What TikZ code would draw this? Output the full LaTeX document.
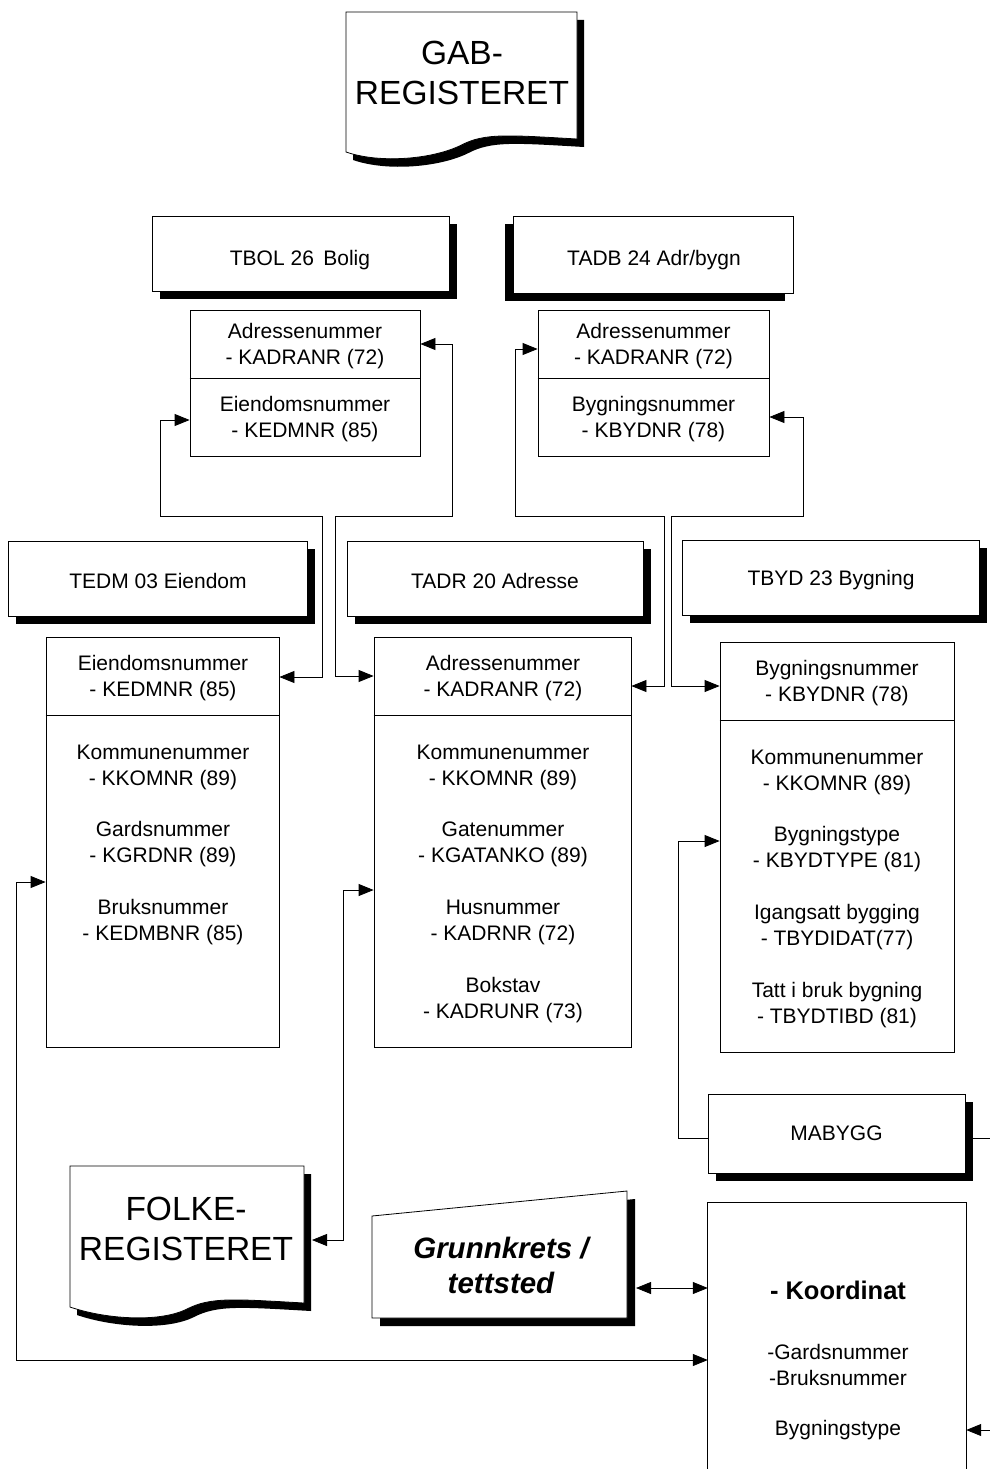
\documentclass[tikz,border=0pt]{standalone}
\usepackage{fontspec}
\setmainfont{Liberation Sans}
\usetikzlibrary{arrows.meta,shadows}
\newcommand\mydocshape[5]{%
  \begin{scope}[shift={(7,8)}]
    \fill[black] (#1,#2) -- (#3,#2) -- (#3,#5)
      .. controls ({#1+0.7*(#3-#1)},#5-4) and ({#1+0.6*(#3-#1)},#5-6) .. ({#1+0.5*(#3-#1)},#5+6)
      .. controls ({#1+0.38*(#3-#1)},#5+20) and ({#1+0.15*(#3-#1)},#4+12) .. (#1,#4) -- cycle;
  \end{scope}
  \filldraw[fill=white,line width=0.8pt] (#1,#2) -- (#3,#2) -- (#3,#5)
      .. controls ({#1+0.7*(#3-#1)},#5-4) and ({#1+0.6*(#3-#1)},#5-6) .. ({#1+0.5*(#3-#1)},#5+6)
      .. controls ({#1+0.38*(#3-#1)},#5+20) and ({#1+0.15*(#3-#1)},#4+12) .. (#1,#4) -- cycle;
}
\begin{document}
\begin{tikzpicture}[x=1pt,y=-1pt,
  every node/.style={font=\fontsize{21}{26}\selectfont, align=center, inner sep=0pt},
  box/.style={draw, line width=0.8pt, fill=white},
  shadowR/.style={drop shadow={shadow xshift=8pt,shadow yshift=-8pt,fill=black,opacity=1}},
  shadowL/.style={drop shadow={shadow xshift=-8pt,shadow yshift=-8pt,fill=black,opacity=1}},
  conn/.style={line width=0.8pt},
  >={Triangle[length=15pt,width=12pt]},
  bigtext/.style={font=\fontsize{33.5}{40}\selectfont},
  boldit/.style={font=\fontsize{29.5}{35}\selectfont\bfseries\itshape},
  ]
\useasboundingbox (0,0) rectangle (990,1469);

% GAB document
\mydocshape{346}{12}{577}{152}{139}
\node[bigtext] (gab) at (462,73) {GAB-\\REGISTERET};

% top headers
\node[box, shadowR, minimum width=297, minimum height=75] (tbol) at (300.5,253.5) {};
\node (tbolT) at (300,260) {TBOL 26\hspace{0.45em}Bolig};
\node[box, shadowL, minimum width=280, minimum height=77] (tadb) at (653,254.5) {};
\node (tadbT) at (654,260) {TADB 24 Adr/bygn};

% top field boxes
\node[box, minimum width=230, minimum height=146] (tbolf) at (305,383) {};
\draw[line width=0.8pt] (tbolf.west |- 0,378) -- (tbolf.east |- 0,378);
\node (tbolA) at (305,346) {Adressenummer\\- KADRANR (72)};
\node (tbolB) at (305,419) {Eiendomsnummer\\- KEDMNR (85)};

\node[box, minimum width=231, minimum height=146] (tadbf) at (653.5,383) {};
\draw[line width=0.8pt] (tadbf.west |- 0,378) -- (tadbf.east |- 0,378);
\node (tadbA) at (653.5,346) {Adressenummer\\- KADRANR (72)};
\node (tadbB) at (653.5,419) {Bygningsnummer\\- KBYDNR (78)};

% middle headers
\node[box, shadowR, minimum width=299, minimum height=75] (tedm) at (157.5,578.5) {};
\node (tedmT) at (158,580.5) {TEDM 03 Eiendom};
\node[box, shadowR, minimum width=296, minimum height=75] (tadr) at (495,578.5) {};
\node (tadrT) at (495,580.5) {TADR 20 Adresse};
\node[box, shadowR, minimum width=297, minimum height=75] (tbyd) at (830.5,577.5) {};
\node (tbydT) at (831,580.5) {TBYD 23 Bygning};

% middle field boxes
\node[box, minimum width=233, minimum height=410] (tedmf) at (162.5,842) {};
\draw[line width=0.8pt] (tedmf.west |- 0,715) -- (tedmf.east |- 0,715);
\node (tedm1) at (163,678.5) {Eiendomsnummer\\- KEDMNR (85)};
\node (tedm2) at (163,767.5) {Kommunenummer\\- KKOMNR (89)};
\node (tedm3) at (163,844.5) {Gardsnummer\\- KGRDNR (89)};
\node (tedm4) at (163,922.5) {Bruksnummer\\- KEDMBNR (85)};

\node[box, minimum width=257, minimum height=410] (tadrf) at (502.5,842) {};
\draw[line width=0.8pt] (tadrf.west |- 0,715) -- (tadrf.east |- 0,715);
\node (tadr1) at (503,678.5) {Adressenummer\\- KADRANR (72)};
\node (tadr2) at (503,767.5) {Kommunenummer\\- KKOMNR (89)};
\node (tadr3) at (503,844.5) {Gatenummer\\- KGATANKO (89)};
\node (tadr4) at (503,922.5) {Husnummer\\- KADRNR (72)};
\node (tadr5) at (503,1000.5) {Bokstav\\- KADRUNR (73)};

\node[box, minimum width=234, minimum height=410] (tbydf) at (837,847) {};
\draw[line width=0.8pt] (tbydf.west |- 0,720) -- (tbydf.east |- 0,720);
\node (tbyd1) at (837,683.5) {Bygningsnummer\\- KBYDNR (78)};
\node (tbyd2) at (837,772.5) {Kommunenummer\\- KKOMNR (89)};
\node (tbyd3) at (837,849.5) {Bygningstype\\- KBYDTYPE (81)};
\node (tbyd4) at (837,927.5) {Igangsatt bygging\\- TBYDIDAT(77)};
\node (tbyd5) at (837,1005.5) {Tatt i bruk bygning\\- TBYDTIBD (81)};

% MABYGG
\node[box, shadowR, minimum width=257, minimum height=79] (mabygg) at (836.5,1133.5) {MABYGG};

% FOLKE document
\mydocshape{70}{1166}{304}{1307}{1303}
\node[bigtext] (folke) at (186,1229) {FOLKE-\\REGISTERET};
\coordinate (folkeR) at (312,1240);

% Grunnkrets
\fill[black] (380,1224) -- (635,1199) -- (635,1326) -- (380,1326) -- cycle;
\filldraw[fill=white,line width=0.8pt] (372,1216) -- (627,1191) -- (627,1318) -- (372,1318) -- cycle;
\node[boldit] (grunn) at (501,1265) {Grunnkrets /\\tettsted};
\coordinate (grunnR) at (636,1288);

% Koordinat box
\node[minimum width=258, minimum height=266] (koord) at (837,1336) {};
\draw[line width=0.8pt] (koord.south west) -- (koord.north west) -- (koord.north east) -- (koord.south east);
\node[font=\fontsize{25.5}{30}\selectfont\bfseries] (k1) at (838,1290) {- Koordinat};
\node (k2) at (838,1365) {-Gardsnummer\\-Bruksnummer};
\node (k3) at (838,1430) {Bygningstype};

% free ends
\coordinate (rightA) at (990,1138);
\coordinate (rightB) at (990,1430);

% connectors
\draw[conn,<->] (tedmf.east |- 0,677) -- (322,677) -- (322,516) -- (160,516) -- (160,420) -- (tbolf.west |- 0,420);
\draw[conn,<->] (tadrf.west |- 0,676) -- (335,676) -- (335,516) -- (452,516) -- (452,344) -- (tbolf.east |- 0,344);
\draw[conn,<->] (tadrf.east |- 0,686) -- (664,686) -- (664,516) -- (515,516) -- (515,349) -- (tadbf.west |- 0,349);
\draw[conn,<->] (tbydf.west |- 0,686) -- (671,686) -- (671,516) -- (803,516) -- (803,417) -- (tadbf.east |- 0,417);
\draw[conn,<-] (tbydf.west |- 0,841) -- (678,841) -- (678,1138) -- (mabygg.west |- 0,1138);
\draw[conn] ([xshift=8pt]mabygg.east |- 0,1138) -- (rightA);
\draw[conn,<->] (tadrf.west |- 0,890) -- (343,890) -- (343,1240) -- (folkeR);
\draw[conn,<->] (tedmf.west |- 0,882) -- (16,882) -- (16,1360) -- (koord.west |- 0,1360);
\draw[conn,<->] (grunnR) -- (koord.west |- 0,1288);
\draw[conn,->] (rightB) -- (koord.east |- 0,1430);
\end{tikzpicture}
\end{document}
